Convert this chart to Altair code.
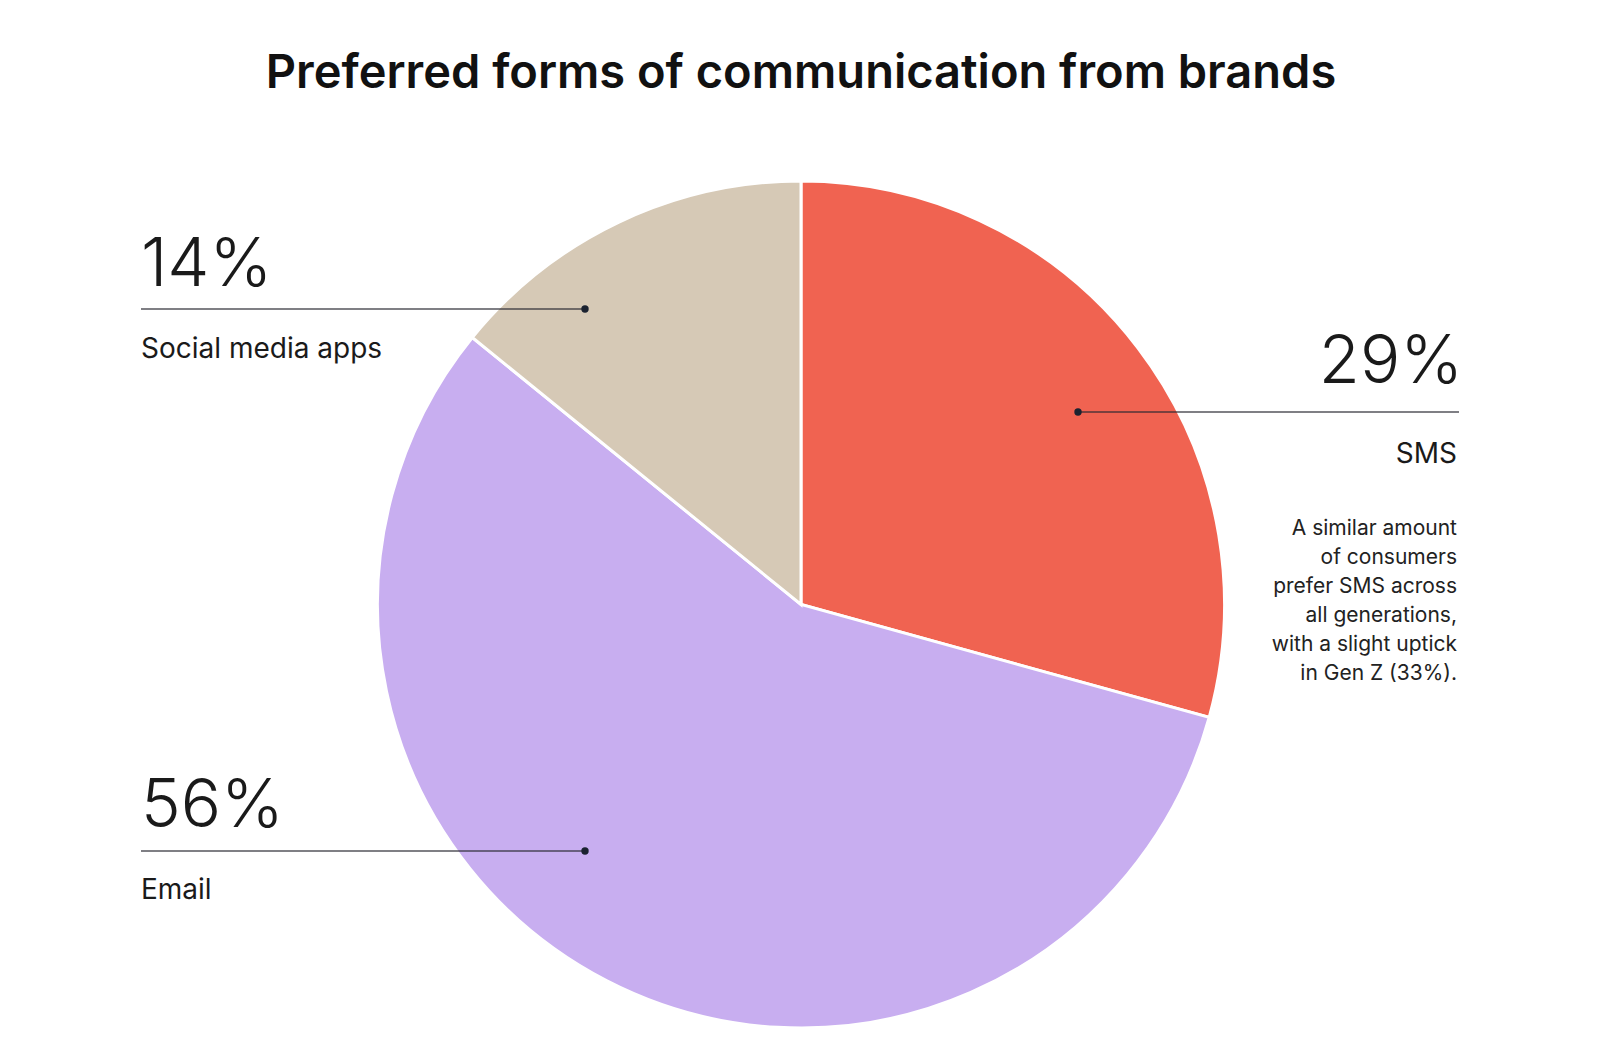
import pandas as pd
import altair as alt

# data
categories = ["SMS", "Email", "Social media apps"]
shares = [29, 56, 14]
note_lines = [
    "A similar amount",
    "of consumers",
    "prefer SMS across",
    "all generations,",
    "with a slight uptick",
    "in Gen Z (33%).",
]
title_text = "Preferred forms of communication from brands"

# styling / layout (pixel positions inside the view, page minus the 8px margin)
slice_colors = ["#F06351", "#C8AEF0", "#D6C9B6"]
ink = "#1a1a1a"
font = "Inter"
W, H = 1584, 1048
pie_cx, pie_cy, pie_r = 793, 596.5, 423.5

layout = pd.DataFrame({
    "category": ["SMS", "Email", "Social media apps"],
    "num_x": [1455, 133, 133],
    "label_x": [1449, 133, 133],
    "num_y": [375, 819, 278],
    "align": ["right", "left", "left"],
    "line_x1": [1070, 133, 133],
    "line_x2": [1451, 577, 577],
    "line_y": [404, 843, 301],
    "dot_x": [1070, 577, 577],
    "label_y": [455, 891, 350],
})

pie_df = pd.DataFrame({
    "category": categories,
    "share": shares,
    "idx": list(range(len(categories))),
})

ann = pie_df.merge(layout, on="category")
ann["pct"] = ann["share"].astype(str) + "%"

note_df = pd.DataFrame({
    "line": note_lines,
    "row": list(range(len(note_lines))),
})

color_scale = alt.Scale(domain=categories, range=slice_colors)

pie = alt.Chart(pie_df).mark_arc(
    radius=pie_r, stroke="white", strokeWidth=3
).encode(
    theta=alt.Theta("share:Q", stack=True),
    order=alt.Order("idx:Q"),
    color=alt.Color("category:N", scale=color_scale, legend=None),
    x=alt.value(pie_cx),
    y=alt.value(pie_cy),
)

base = alt.Chart(ann)

leader = base.mark_rule(color="#2b2b33", strokeWidth=1.6, opacity=0.8).encode(
    x=alt.X("line_x1:Q", scale=None, axis=None),
    x2="line_x2:Q",
    y=alt.Y("line_y:Q", scale=None, axis=None),
)

dots = base.mark_circle(size=55, color="#1b2230", opacity=1).encode(
    x=alt.X("dot_x:Q", scale=None, axis=None),
    y=alt.Y("line_y:Q", scale=None, axis=None),
)

def side_text(df, align, size, weight, xfield, yfield, textfield):
    return alt.Chart(df).mark_text(
        align=align, baseline="alphabetic", font=font, fontSize=size,
        fontWeight=weight, color=ink
    ).encode(
        x=alt.X(xfield, scale=None, axis=None),
        y=alt.Y(yfield, scale=None, axis=None),
        text=textfield,
    )

left = ann[ann["align"] == "left"]
right = ann[ann["align"] == "right"]

nums_l = side_text(left, "left", 67, 300, "num_x:Q", "num_y:Q", "pct:N")
nums_r = side_text(right, "right", 67, 300, "num_x:Q", "num_y:Q", "pct:N")
labs_l = side_text(left, "left", 28, 400, "label_x:Q", "label_y:Q", "category:N")
labs_r = side_text(right, "right", 28, 400, "label_x:Q", "label_y:Q", "category:N")

note = alt.Chart(note_df).mark_text(
    align="right", baseline="alphabetic", font=font, fontSize=21,
    color="#222222", x=1449
).encode(
    y=alt.Y("row:Q", scale=alt.Scale(domain=[0, 5], range=[527, 672]), axis=None),
    text="line:N",
)

title = alt.Chart(pd.DataFrame({"t": [title_text]})).mark_text(
    align="center", baseline="alphabetic", font=font, fontSize=47,
    fontWeight=600, color="#111111"
).encode(
    x=alt.value(793),
    y=alt.value(80),
    text="t:N",
)

chart = alt.layer(
    pie, leader, dots, nums_l, nums_r, labs_l, labs_r, note, title
).properties(
    width=W, height=H, padding=0, autosize="none", background="white"
).configure_view(stroke=None)

chart.save("out.html", embed_options={"renderer": "svg", "actions": False})
